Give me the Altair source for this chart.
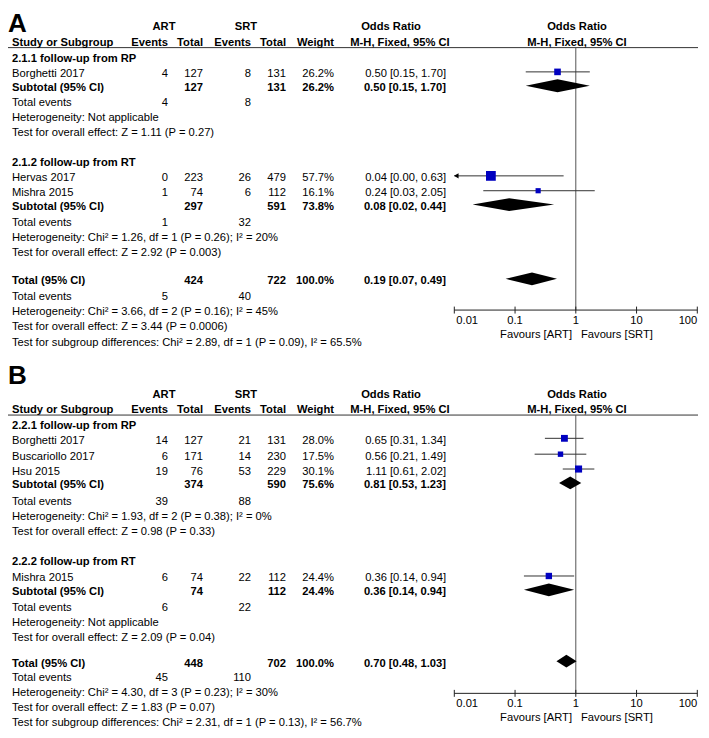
import altair as alt
import pandas as pd

# ---------------- data : panel A ----------------
A_group_titles = ["2.1.1 follow-up from RP", "2.1.2 follow-up from RT"]
A_study = ["Borghetti 2017", "Hervas 2017", "Mishra 2015"]
A_study_group = [0, 1, 1]
A_art_events = [4, 0, 1]
A_art_total = [127, 223, 74]
A_srt_events = [8, 26, 6]
A_srt_total = [131, 479, 112]
A_weight = [26.2, 57.7, 16.1]
A_or = [0.50, 0.04, 0.24]
A_or_lo = [0.15, 0.00, 0.03]
A_or_hi = [1.70, 0.63, 2.05]

A_sub_art_total = [127, 297]
A_sub_srt_total = [131, 591]
A_sub_weight = [26.2, 73.8]
A_sub_or = [0.50, 0.08]
A_sub_lo = [0.15, 0.02]
A_sub_hi = [1.70, 0.44]
A_sub_art_events = [4, 1]
A_sub_srt_events = [8, 32]
A_sub_het = ["Not applicable", "Chi² = 1.26, df = 1 (P = 0.26); I² = 20%"]
A_sub_z = ["Z = 1.11 (P = 0.27)", "Z = 2.92 (P = 0.003)"]

A_tot_totals = [424, 722]
A_tot_or = [0.19, 0.07, 0.49]
A_tot_events = [5, 40]
A_tot_het = "Chi² = 3.66, df = 2 (P = 0.16); I² = 45%"
A_tot_z = "Z = 3.44 (P = 0.0006)"
A_sub_diff = "Chi² = 2.89, df = 1 (P = 0.09), I² = 65.5%"

# ---------------- data : panel B ----------------
B_group_titles = ["2.2.1 follow-up from RP", "2.2.2 follow-up from RT"]
B_study = ["Borghetti 2017", "Buscariollo 2017", "Hsu 2015", "Mishra 2015"]
B_study_group = [0, 0, 0, 1]
B_art_events = [14, 6, 19, 6]
B_art_total = [127, 171, 76, 74]
B_srt_events = [21, 14, 53, 22]
B_srt_total = [131, 230, 229, 112]
B_weight = [28.0, 17.5, 30.1, 24.4]
B_or = [0.65, 0.56, 1.11, 0.36]
B_or_lo = [0.31, 0.21, 0.61, 0.14]
B_or_hi = [1.34, 1.49, 2.02, 0.94]

B_sub_art_total = [374, 74]
B_sub_srt_total = [590, 112]
B_sub_weight = [75.6, 24.4]
B_sub_or = [0.81, 0.36]
B_sub_lo = [0.53, 0.14]
B_sub_hi = [1.23, 0.94]
B_sub_art_events = [39, 6]
B_sub_srt_events = [88, 22]
B_sub_het = ["Chi² = 1.93, df = 2 (P = 0.38); I² = 0%", "Not applicable"]
B_sub_z = ["Z = 0.98 (P = 0.33)", "Z = 2.09 (P = 0.04)"]

B_tot_totals = [448, 702]
B_tot_or = [0.70, 0.48, 1.03]
B_tot_events = [45, 110]
B_tot_het = "Chi² = 4.30, df = 3 (P = 0.23); I² = 30%"
B_tot_z = "Z = 1.83 (P = 0.07)"
B_sub_diff = "Chi² = 2.31, df = 1 (P = 0.13), I² = 56.7%"

axis_ticks = [0.01, 0.1, 1, 10, 100]
axis_labels = ["0.01", "0.1", "1", "10", "100"]

# ---------------- layout (reference pixel units) ----------------
FS = 11.2
FONT = "Liberation Sans"
W, H = 690, 722
X0 = 8
xs_text = alt.Scale(domain=[X0, X0 + W], range=[0, W])
ys = alt.Scale(domain=[6, 735], range=[0, H])
xs_log = alt.Scale(type="log", domain=[0.01, 100], range=[454.3 - X0, 697.3 - X0])

COL_LABEL, COL_ART_EV, COL_ART_TOT, COL_SRT_EV, COL_SRT_TOT, COL_W, COL_OR = 12, 168, 203, 251, 286, 334, 446
MARK_DY = -2.5
DIAM_H = 6.5

LAYOUT_A = dict(letter=9, top=25, head=41, line=46,
                groups=[dict(title=57, studies=[73], sub=87, ev=102, het=117, test=132),
                        dict(title=162, studies=[178, 193], sub=207, ev=223, het=238, test=253)],
                total=282, tev=298, thet=313, ttest=328, tdiff=344, axis=311)
LAYOUT_B = dict(letter=364, top=397, head=412, line=417,
                groups=[dict(title=428, studies=[443, 459, 474], sub=488, ev=505, het=520, test=535),
                        dict(title=565, studies=[582], sub=596, ev=612, het=627, test=642)],
                total=668, tev=683, thet=698, ttest=713, tdiff=728, axis=698)

texts, letters, study_rows, diamonds, vlines, axes = [], [], [], [], [], []


def T(text, x, y, align="left", bold=False, size=FS):
    texts.append(dict(text=str(text), x=x, y=y, align=align,
                      weight="bold" if bold else "normal", size=size))


def fmt_or(o, lo, hi):
    return f"{o:.2f} [{lo:.2f}, {hi:.2f}]"


def add_diamond(key, o, lo, hi, y):
    yc = y + MARK_DY
    for xv, h in ((lo, 0), (o, DIAM_H), (hi, 0)):
        diamonds.append(dict(id=key, x=xv, y=yc - h, y2=yc + h))


def build(letter, L, titles, study, sgroup, ae, at, se, st, w, o, lo, hi,
          s_at, s_st, s_w, s_o, s_lo, s_hi, s_ae, s_se, s_het, s_z,
          t_tot, t_or, t_ev, t_het, t_z, diff):
    letters.append(dict(text=letter, x=X0, y=L["letter"]))
    T("ART", 164, L["top"], "center", True)
    T("SRT", 246, L["top"], "center", True)
    T("Odds Ratio", 391, L["top"], "center", True)
    T("Odds Ratio", 577, L["top"], "center", True)
    T("Study or Subgroup", COL_LABEL, L["head"], "left", True)
    for txt, cx in (("Events", COL_ART_EV), ("Total", COL_ART_TOT), ("Events", COL_SRT_EV),
                    ("Total", COL_SRT_TOT), ("Weight", COL_W)):
        T(txt, cx, L["head"], "right", True)
    T("M-H, Fixed, 95% CI", 400, L["head"], "center", True)
    T("M-H, Fixed, 95% CI", 577, L["head"], "center", True)
    for g, G in enumerate(L["groups"]):
        T(titles[g], COL_LABEL, G["title"], "left", True)
        idx = [i for i in range(len(study)) if sgroup[i] == g]
        for i, yy in zip(idx, G["studies"]):
            T(study[i], COL_LABEL, yy)
            T(ae[i], COL_ART_EV, yy, "right")
            T(at[i], COL_ART_TOT, yy, "right")
            T(se[i], COL_SRT_EV, yy, "right")
            T(st[i], COL_SRT_TOT, yy, "right")
            T(f"{w[i]:.1f}%", COL_W, yy, "right")
            T(fmt_or(o[i], lo[i], hi[i]), COL_OR, yy, "right")
            study_rows.append(dict(o=o[i], lo=max(lo[i], 0.01), hi=hi[i], clipped=lo[i] < 0.01,
                                   w=w[i], y=yy + MARK_DY))
        T("Subtotal (95% CI)", COL_LABEL, G["sub"], "left", True)
        T(s_at[g], COL_ART_TOT, G["sub"], "right", True)
        T(s_st[g], COL_SRT_TOT, G["sub"], "right", True)
        T(f"{s_w[g]:.1f}%", COL_W, G["sub"], "right", True)
        T(fmt_or(s_o[g], s_lo[g], s_hi[g]), COL_OR, G["sub"], "right", True)
        add_diamond(f"{letter}s{g}", s_o[g], s_lo[g], s_hi[g], G["sub"])
        T("Total events", COL_LABEL, G["ev"])
        T(s_ae[g], COL_ART_EV, G["ev"], "right")
        T(s_se[g], COL_SRT_EV, G["ev"], "right")
        T("Heterogeneity: " + s_het[g], COL_LABEL, G["het"])
        T("Test for overall effect: " + s_z[g], COL_LABEL, G["test"])
    T("Total (95% CI)", COL_LABEL, L["total"], "left", True)
    T(t_tot[0], COL_ART_TOT, L["total"], "right", True)
    T(t_tot[1], COL_SRT_TOT, L["total"], "right", True)
    T("100.0%", COL_W, L["total"], "right", True)
    T(fmt_or(*t_or), COL_OR, L["total"], "right", True)
    add_diamond(f"{letter}t", t_or[0], t_or[1], t_or[2], L["total"])
    T("Total events", COL_LABEL, L["tev"])
    T(t_ev[0], COL_ART_EV, L["tev"], "right")
    T(t_ev[1], COL_SRT_EV, L["tev"], "right")
    T("Heterogeneity: " + t_het, COL_LABEL, L["thet"])
    T("Test for overall effect: " + t_z, COL_LABEL, L["ttest"])
    T("Test for subgroup differences: " + diff, COL_LABEL, L["tdiff"])
    T("Favours [ART]", 572, L["axis"] + 25, "right")
    T("Favours [SRT]", 581, L["axis"] + 25, "left")
    vlines.append(dict(x=1, y=L["line"], y2=L["axis"]))
    axes.append(dict(lo=0.01, hi=100, y=L["axis"], line=L["line"]))


build("A", LAYOUT_A, A_group_titles, A_study, A_study_group, A_art_events, A_art_total,
      A_srt_events, A_srt_total, A_weight, A_or, A_or_lo, A_or_hi,
      A_sub_art_total, A_sub_srt_total, A_sub_weight, A_sub_or, A_sub_lo, A_sub_hi,
      A_sub_art_events, A_sub_srt_events, A_sub_het, A_sub_z,
      A_tot_totals, A_tot_or, A_tot_events, A_tot_het, A_tot_z, A_sub_diff)
build("B", LAYOUT_B, B_group_titles, B_study, B_study_group, B_art_events, B_art_total,
      B_srt_events, B_srt_total, B_weight, B_or, B_or_lo, B_or_hi,
      B_sub_art_total, B_sub_srt_total, B_sub_weight, B_sub_or, B_sub_lo, B_sub_hi,
      B_sub_art_events, B_sub_srt_events, B_sub_het, B_sub_z,
      B_tot_totals, B_tot_or, B_tot_events, B_tot_het, B_tot_z, B_sub_diff)

text_df = pd.DataFrame(texts)
letter_df = pd.DataFrame(letters)
rows_df = pd.DataFrame(study_rows)
diam_df = pd.DataFrame(diamonds)
vline_df = pd.DataFrame(vlines)
axis_df = pd.DataFrame(axes)
tick_df = pd.DataFrame([dict(t=t, lab=lab, y=a["y"] - 3.5, y2=a["y"] + 3.5, ly=a["y"] + 11, k=k)
                        for a in axes for k, (t, lab) in enumerate(zip(axis_ticks, axis_labels))])

Y = lambda f="y": alt.Y(f"{f}:Q", scale=ys, axis=None)
XL = lambda f: alt.X(f"{f}:Q", scale=xs_log, axis=None)
XT = alt.X("x:Q", scale=xs_text, axis=None)

layers = []
# header rules
layers.append(alt.Chart(axis_df).mark_rule(color="#333333", strokeWidth=1).encode(
    x=alt.value(0), x2=alt.value(W), y=Y("line")))
# panel letters
layers.append(alt.Chart(letter_df).mark_text(align="left", baseline="top", font=FONT, fontSize=26,
                                             fontWeight="bold", color="#000000").encode(
    x=XT, y=Y(), text="text:N"))
# table text
for (al, wt, sz), sub in text_df.groupby(["align", "weight", "size"]):
    layers.append(alt.Chart(sub).mark_text(align=al, baseline="middle", font=FONT, fontSize=sz,
                                           fontWeight=wt, color="#000000").encode(
        x=XT, y=Y(), text="text:N"))
# line of no effect
layers.append(alt.Chart(vline_df).mark_rule(color="#555555", strokeWidth=1).encode(
    x=XL("x"), y=Y(), y2="y2:Q"))
# axis line and ticks
layers.append(alt.Chart(axis_df).mark_rule(color="#222222", strokeWidth=1).encode(
    x=XL("lo"), x2="hi:Q", y=Y()))
layers.append(alt.Chart(tick_df).mark_rule(color="#222222", strokeWidth=1).encode(
    x=XL("t"), y=Y(), y2="y2:Q"))
for cond, al, dx in (("datum.k == 0", "left", 2), ("datum.k > 0 && datum.k < 4", "center", 0),
                     ("datum.k == 4", "right", 0)):
    layers.append(alt.Chart(tick_df).transform_filter(cond).mark_text(
        align=al, dx=dx, baseline="middle", font=FONT, fontSize=FS, color="#000000").encode(
        x=XL("t"), y=Y("ly"), text="lab:N"))
# confidence intervals
layers.append(alt.Chart(rows_df).mark_rule(color="#333333", strokeWidth=1).encode(
    x=XL("lo"), x2="hi:Q", y=Y()))
layers.append(alt.Chart(rows_df).transform_filter("datum.clipped").mark_point(
    shape="triangle-left", filled=True, size=28, color="#000000", opacity=1, xOffset=2).encode(
    x=XL("lo"), y=Y()))
# study squares
layers.append(alt.Chart(rows_df).mark_square(color="#0000c0", opacity=1).encode(
    x=XL("o"), y=Y(),
    size=alt.Size("w:Q", scale=alt.Scale(domain=[0, 60], range=[0, 100]), legend=None)))
# pooled diamonds
layers.append(alt.Chart(diam_df).mark_area(color="#000000", opacity=1).encode(
    x=XL("x"), y=alt.Y("y:Q", scale=ys, axis=None, stack=None), y2="y2:Q", detail="id:N"))

chart = alt.layer(*layers).resolve_scale(x="independent").properties(
    width=W, height=H, padding=0, autosize="none", background="white"
).configure_view(stroke=None)

chart.save("out.html", embed_options={"renderer": "svg", "actions": False})
